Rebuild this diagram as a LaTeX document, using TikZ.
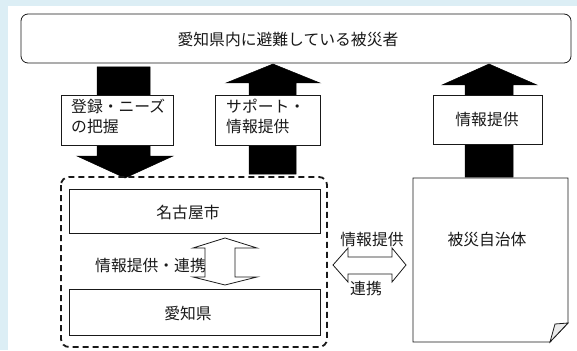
\documentclass[tikz,border=0pt]{standalone}
\usepackage{fontspec}
\setmainfont{Noto Sans CJK JP}
\definecolor{bgblue}{RGB}{220,238,245}
\definecolor{ink}{RGB}{25,25,25}
\begin{document}
\begin{tikzpicture}[x=1pt,y=-1pt,
  every node/.style={font=\fontsize{15.8}{20}\selectfont, text=ink, inner sep=0pt},
  plainbox/.style={draw=ink, line width=0.8pt, fill=white},
  blockarrow/.style={fill=black, draw=black, line width=0.5pt},
  hollowarrow/.style={draw=ink, line width=0.8pt, fill=white},
  groupbox/.style={draw=ink, line width=1.8pt, dash pattern=on 6pt off 4pt, rounded corners=8pt}]
\useasboundingbox (0,0) rectangle (577,350);
\fill[bgblue] (0,0) rectangle (577,350);
\fill[white] (8,6) rectangle (577,350);

% top box
\draw[plainbox, rounded corners=7pt] (21,14) rectangle (571,63);
\node (evac) at (288,40) {愛知県内に避難している被災者};

% left down arrow
\coordinate (ltip) at (125,178);
\draw[blockarrow] (97,67) -- (150,67) -- (150,156) -- (173,156) -- (ltip) -- (77,156) -- (97,156) -- cycle;
\draw[plainbox] (61,95) rectangle (173,145);
\node[anchor=north west, align=left] (reg) at (71,99) {登録・ニーズ\\の把握};

% middle up arrow
\coordinate (mtip) at (273,64);
\draw[blockarrow] (249,174) -- (249,83) -- (226,83) -- (mtip) -- (320,83) -- (296,83) -- (296,174) -- cycle;
\draw[plainbox] (215,95) rectangle (320,145);
\node[anchor=north west, align=left] (sup) at (226,99) {サポート・\\情報提供};

% right up arrow
\coordinate (rtip) at (489,64);
\draw[blockarrow] (465,177) -- (465,85) -- (442,85) -- (rtip) -- (537,85) -- (513,85) -- (513,177) -- cycle;
\draw[plainbox] (433,95) rectangle (542,144);
\node (info) at (487,120) {情報提供};

% dashed group
\draw[groupbox] (61,177) rectangle (327,347);
\draw[plainbox] (69,189) rectangle (320,233);
\node (nagoya) at (188,212) {名古屋市};
\draw[plainbox] (69,289) rectangle (320,335);
\node (aichi) at (188,313) {愛知県};

% vertical double arrow
\draw[hollowarrow] (225,238) -- (257,248) -- (235,248) -- (235,277) -- (257,277) -- (225,285)
  -- (193,277) -- (205,277) -- (205,248) -- (193,248) -- cycle;
\node[anchor=east] (coop) at (206,266) {情報提供・連携};

% horizontal double arrow
\draw[hollowarrow] (333,265) -- (348,248) -- (348,257) -- (392,257) -- (392,248) -- (406,265)
  -- (392,282) -- (392,274) -- (348,274) -- (348,282) -- cycle;
\node (hinfo) at (372,240) {情報提供};
\node (hcoop) at (366,289) {連携};

% disaster municipality box with folded corner
\draw[plainbox] (413,178) -- (568,178) -- (568,323) -- (550,342) -- (413,342) -- cycle;
\draw[draw=ink, line width=0.8pt, fill=black!8] (550,342) -- (555,324) -- (568,323) -- cycle;
\node (muni) at (487,240) {被災自治体};
\end{tikzpicture}
\end{document}
